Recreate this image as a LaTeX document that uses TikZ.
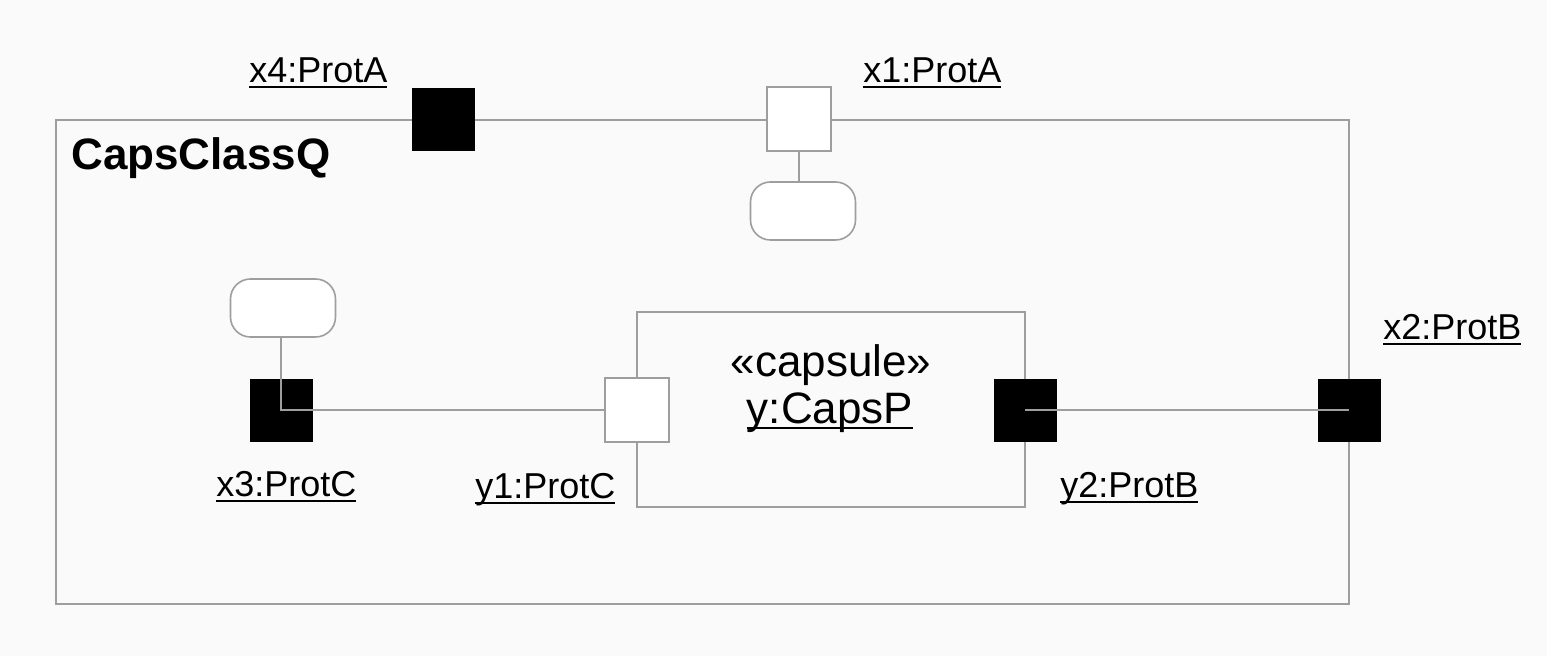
\documentclass[tikz,border=0pt]{standalone}
\usepackage{fontspec}
\setmainfont{Liberation Sans}
\newcommand\ulabel[1]{\setbox0\hbox{#1}\rlap{\rule[-2.6pt]{\wd0}{1.1pt}}\box0}
\begin{document}
\begin{tikzpicture}[x=0.5pt,y=-0.5pt,
  line/.style={draw=black!38,line width=0.8pt},
  portfilled/.style={rectangle,fill=black,draw=black,minimum size=31pt,inner sep=0pt},
  portopen/.style={rectangle,fill=white,line,minimum size=32pt,inner sep=0pt},
  stateblob/.style={rectangle,rounded corners=10pt,line,fill=white,minimum width=52.5pt,minimum height=29pt,inner sep=0pt},
  lbl/.style={anchor=base west,inner sep=0pt,font=\fontsize{18}{20}\selectfont},
  ctext/.style={anchor=base,inner sep=0pt,font=\fontsize{22}{24}\selectfont}]
  % canvas
  \path[fill=black!2] (0,0) rectangle (1547,656);
  \useasboundingbox (0,0) rectangle (1547,656);

  % outer capsule class and inner capsule role
  \draw[line] (56,120) rectangle (1349,604);
  \node[anchor=base west,inner sep=0pt,font=\fontsize{22}{24}\selectfont\bfseries] (title) at (71,170) {CapsClassQ};
  \draw[line] (637,312) rectangle (1025,507);
  \node[ctext] (stereo) at (831,377) {«capsule»};
  \node[ctext] (role) at (830,424) {\ulabel{y:CapsP}};

  % state blobs
  \node[stateblob] (rb1) at (803,211) {};
  \node[stateblob] (rb2) at (283,308) {};

  % ports
  \node[portfilled] (x4) at (443,119) {};
  \node[portopen]   (x1) at (799,119) {};
  \node[portfilled] (x3) at (281,410) {};
  \node[portopen]   (y1) at (637,410) {};
  \node[portfilled] (y2) at (1025,410) {};
  \node[portfilled] (x2) at (1349,410) {};

  % connectors
  \draw[line] (x1.south) -- (x1.south |- rb1.north);
  \draw[line] (x3.center |- rb2.south) -- (x3.center) -- (y1.west);
  \draw[line] (y2.center) -- (x2.center);

  % port labels
  \node[lbl] (lx4) at (249,83) {\ulabel{x4:ProtA}};
  \node[lbl] (lx1) at (863,83) {\ulabel{x1:ProtA}};
  \node[lbl] (lx3) at (216,497) {\ulabel{x3:ProtC}};
  \node[lbl] (ly1) at (475,499) {\ulabel{y1:ProtC}};
  \node[lbl] (ly2) at (1060,498) {\ulabel{y2:ProtB}};
  \node[lbl] (lx2) at (1383,340) {\ulabel{x2:ProtB}};
\end{tikzpicture}
\end{document}
